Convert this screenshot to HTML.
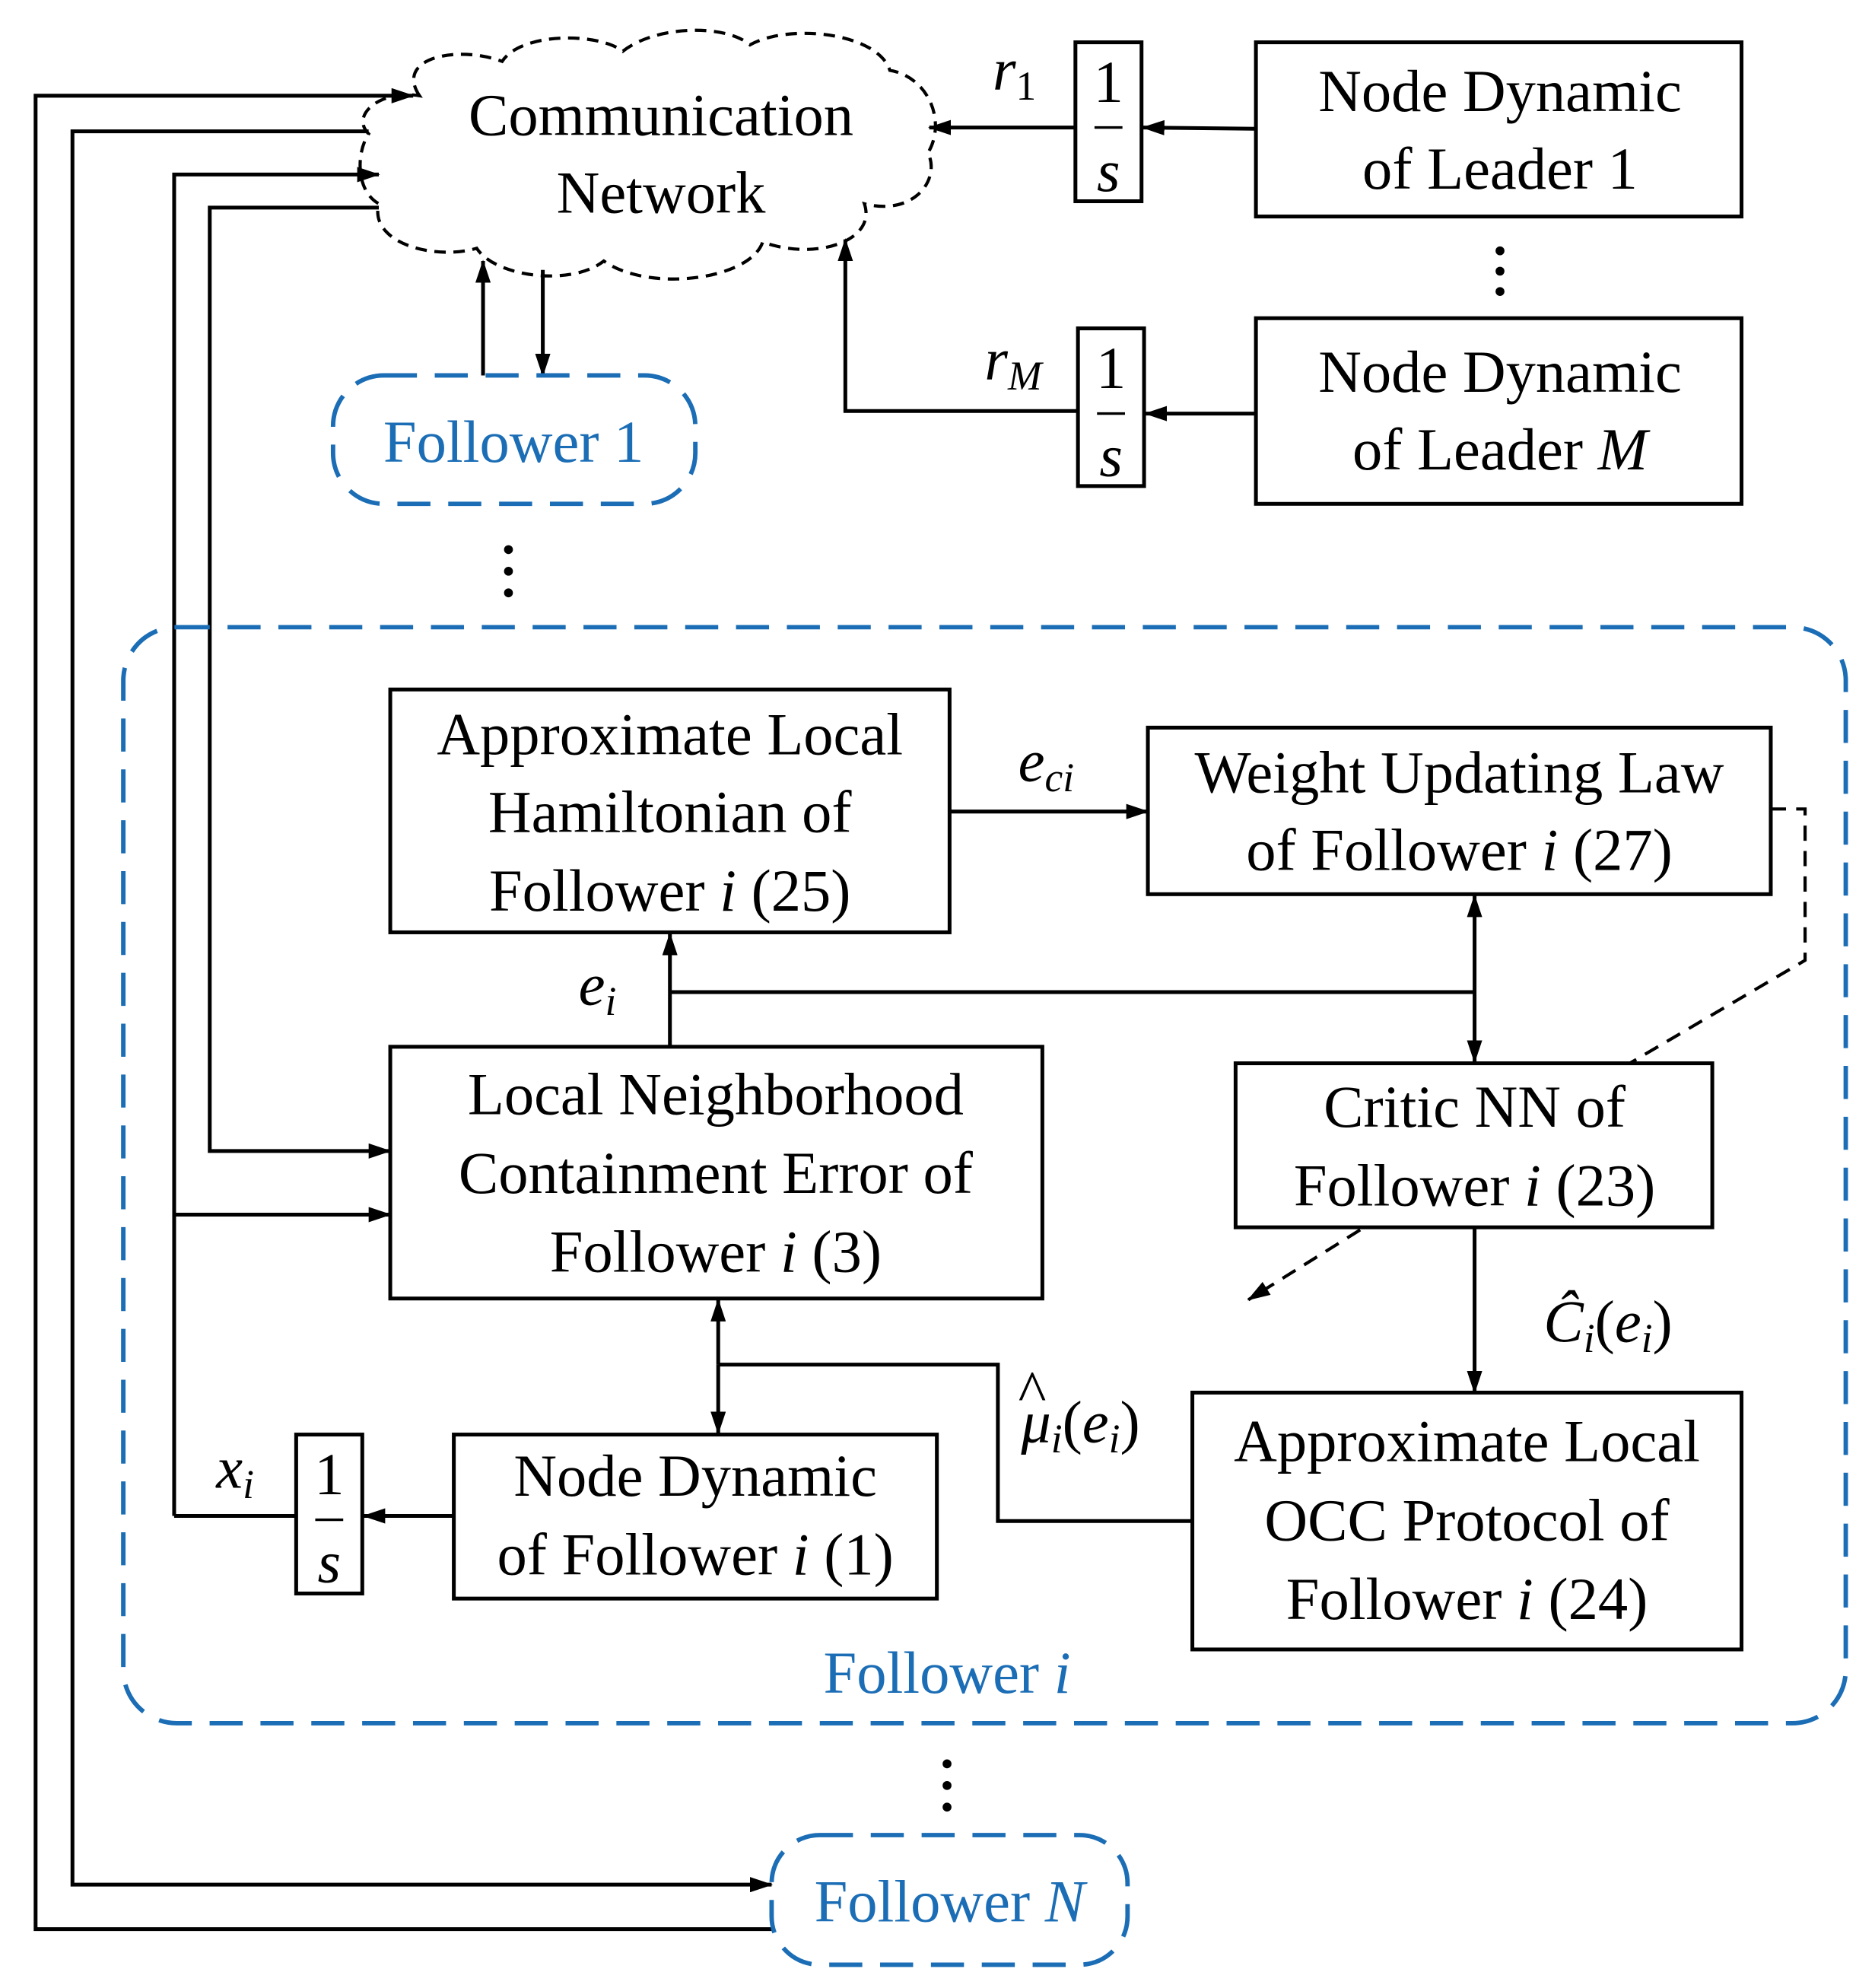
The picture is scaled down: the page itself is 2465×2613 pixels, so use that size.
<!DOCTYPE html>
<html><head><meta charset="utf-8"><style>
html,body{margin:0;padding:0;background:#fff;}
svg{display:block;}
text{font-family:"Liberation Serif",serif;font-size:47px;fill:#000;}
.b{fill:#1b6db5;}
</style></head><body>
<svg width="2465" height="2613" viewBox="0 0 1475 1563" xmlns="http://www.w3.org/2000/svg">
<defs>
<marker id="a" markerWidth="18" markerHeight="12" refX="17" refY="6" orient="auto" markerUnits="userSpaceOnUse">
<path d="M0,0 L18,6 L0,12 z" fill="#000"/></marker>
</defs>
<g fill="none" stroke="#000" stroke-width="3">
<path stroke-dasharray="9,6" stroke-width="2.5" d="M330,75 C310,45 360,35 395,48 C410,25 470,25 490,40 C515,20 570,18 590,35 C620,18 690,25 700,55 C730,60 745,95 730,120 C740,140 720,170 680,160 C690,190 640,205 600,190 C590,220 510,230 475,205 C450,225 390,218 375,195 C340,205 290,190 298,160 C280,150 280,120 290,105 C275,90 300,70 330,75 Z"/>
<polyline points="607,1517 28,1517 28,75 325,75" marker-end="url(#a)"/>
<polyline points="290,103 57,103 57,1482 607,1482" marker-end="url(#a)"/>
<polyline points="137,1192 137,137 298,137" marker-end="url(#a)"/>
<polyline points="298,163 165,163 165,905 307,905" marker-end="url(#a)"/>
<line x1="137" y1="955" x2="307" y2="955" marker-end="url(#a)"/>
<rect x="988" y="33" width="382" height="137"/>
<rect x="846" y="33" width="52" height="125"/>
<line x1="988" y1="101" x2="899" y2="100" marker-end="url(#a)"/>
<line x1="846" y1="100" x2="731" y2="100" marker-end="url(#a)"/>
<rect x="988" y="250" width="382" height="146"/>
<rect x="848" y="258" width="52" height="124"/>
<line x1="988" y1="325" x2="901" y2="325" marker-end="url(#a)"/>
<polyline points="848,323 665,323 665,188" marker-end="url(#a)"/>
<line x1="380" y1="295" x2="380" y2="205" marker-end="url(#a)"/>
<line x1="427" y1="212" x2="427" y2="295" marker-end="url(#a)"/>
<rect x="307" y="542" width="440" height="191"/>
<rect x="903" y="572" width="490" height="131"/>
<line x1="747" y1="638" x2="903" y2="638" marker-end="url(#a)"/>
<rect x="307" y="823" width="513" height="198"/>
<line x1="527" y1="823" x2="527" y2="734" marker-end="url(#a)"/>
<line x1="527" y1="780" x2="1160" y2="780"/>
<line x1="1160" y1="780" x2="1160" y2="704" marker-end="url(#a)"/>
<line x1="1160" y1="780" x2="1160" y2="835" marker-end="url(#a)"/>
<rect x="972" y="836" width="375" height="129"/>
<polyline stroke-dasharray="12,8" stroke-width="2.5" points="1393,636 1420,636 1420,755 1282,836"/>
<line stroke-dasharray="12,8" stroke-width="2.5" x1="1070" y1="967" x2="982" y2="1022" marker-end="url(#a)"/>
<line x1="1160" y1="965" x2="1160" y2="1095" marker-end="url(#a)"/>
<rect x="938" y="1095" width="432" height="202"/>
<polyline points="938,1196 785,1196 785,1073 565,1073"/>
<line x1="565" y1="1073" x2="565" y2="1022" marker-end="url(#a)"/>
<line x1="565" y1="1073" x2="565" y2="1127" marker-end="url(#a)"/>
<rect x="357" y="1128" width="380" height="129"/>
<line x1="357" y1="1192" x2="286" y2="1192" marker-end="url(#a)"/>
<rect x="233" y="1128" width="52" height="125"/>
<line x1="233" y1="1192" x2="137" y2="1192"/>
<line x1="861" y1="100" x2="883" y2="100" stroke-width="2"/>
<line x1="863" y1="325" x2="885" y2="325" stroke-width="2"/>
<line x1="248" y1="1195" x2="270" y2="1195" stroke-width="2"/>
</g>
<g fill="none" stroke="#1b6db5" stroke-width="3.5" stroke-dasharray="26,14">
<rect x="262" y="295" width="285" height="101" rx="40"/>
<rect x="97" y="493" width="1355" height="862" rx="42"/>
<rect x="607" y="1443" width="280" height="102" rx="38"/>
</g>
<g fill="#000">
<circle cx="1180" cy="197" r="3.5"/><circle cx="1180" cy="213" r="3.5"/><circle cx="1180" cy="229" r="3.5"/>
<circle cx="400" cy="432" r="3.5"/><circle cx="400" cy="449" r="3.5"/><circle cx="400" cy="466" r="3.5"/>
<circle cx="745" cy="1387" r="3.5"/><circle cx="745" cy="1404" r="3.5"/><circle cx="745" cy="1421" r="3.5"/>
</g>
<g text-anchor="middle">
<text x="520" y="106">Communication</text>
<text x="520" y="167">Network</text>
<text x="1180" y="87">Node Dynamic</text>
<text x="1180" y="148">of Leader 1</text>
<text x="1180" y="308">Node Dynamic</text>
<text x="1180" y="369">of Leader <tspan font-style="italic">M</tspan></text>
<text x="872" y="80" font-size="42">1</text><text x="872" y="150" font-size="42" font-style="italic">s</text>
<text x="874" y="305" font-size="42">1</text><text x="874" y="374" font-size="42" font-style="italic">s</text>
<text x="259" y="1175" font-size="42">1</text><text x="259" y="1244" font-size="42" font-style="italic">s</text>
<text x="798" y="70" font-style="italic">r<tspan font-size="32" font-style="normal" dy="8">1</tspan></text>
<text x="797" y="298" font-style="italic">r<tspan font-size="32" dy="8">M</tspan></text>
<text x="404" y="363" class="b">Follower 1</text>
<text x="527" y="593">Approximate Local</text>
<text x="527" y="654">Hamiltonian of</text>
<text x="527" y="716">Follower <tspan font-style="italic">i</tspan> (25)</text>
<text x="1148" y="623">Weight Updating Law</text>
<text x="1148" y="684">of Follower <tspan font-style="italic">i</tspan> (27)</text>
<text x="823" y="614" font-style="italic">e<tspan font-size="32" dy="8">ci</tspan></text>
<text x="470" y="790" font-style="italic">e<tspan font-size="32" dy="8">i</tspan></text>
<text x="563" y="876">Local Neighborhood</text>
<text x="563" y="938">Containment Error of</text>
<text x="563" y="1000">Follower <tspan font-style="italic">i</tspan>  (3)</text>
<text x="1160" y="886">Critic NN of</text>
<text x="1160" y="948">Follower <tspan font-style="italic">i</tspan> (23)</text>
<text x="1265" y="1055"><tspan font-style="italic">Ĉ</tspan><tspan font-size="32" font-style="italic" dy="8">i</tspan><tspan dy="-8">(</tspan><tspan font-style="italic">e</tspan><tspan font-size="32" font-style="italic" dy="8">i</tspan><tspan dy="-8">)</tspan></text>
<text x="1154" y="1149">Approximate Local</text>
<text x="1154" y="1211">OCC Protocol of</text>
<text x="1154" y="1273">Follower <tspan font-style="italic">i</tspan> (24)</text>
<text x="850" y="1134"><tspan font-style="italic">μ</tspan><tspan font-size="32" font-style="italic" dy="8">i</tspan><tspan dy="-8">(</tspan><tspan font-style="italic">e</tspan><tspan font-size="32" font-style="italic" dy="8">i</tspan><tspan dy="-8">)</tspan></text>
<text x="812" y="1110" font-size="32">^</text>
<text x="547" y="1176">Node Dynamic</text>
<text x="547" y="1238">of Follower <tspan font-style="italic">i</tspan>  (1)</text>
<text x="185" y="1170" font-style="italic">x<tspan font-size="32" dy="8">i</tspan></text>
<text x="745" y="1331" class="b">Follower <tspan font-style="italic">i</tspan></text>
<text x="747" y="1511" class="b">Follower <tspan font-style="italic">N</tspan></text>
</g>
</svg>
</body></html>
